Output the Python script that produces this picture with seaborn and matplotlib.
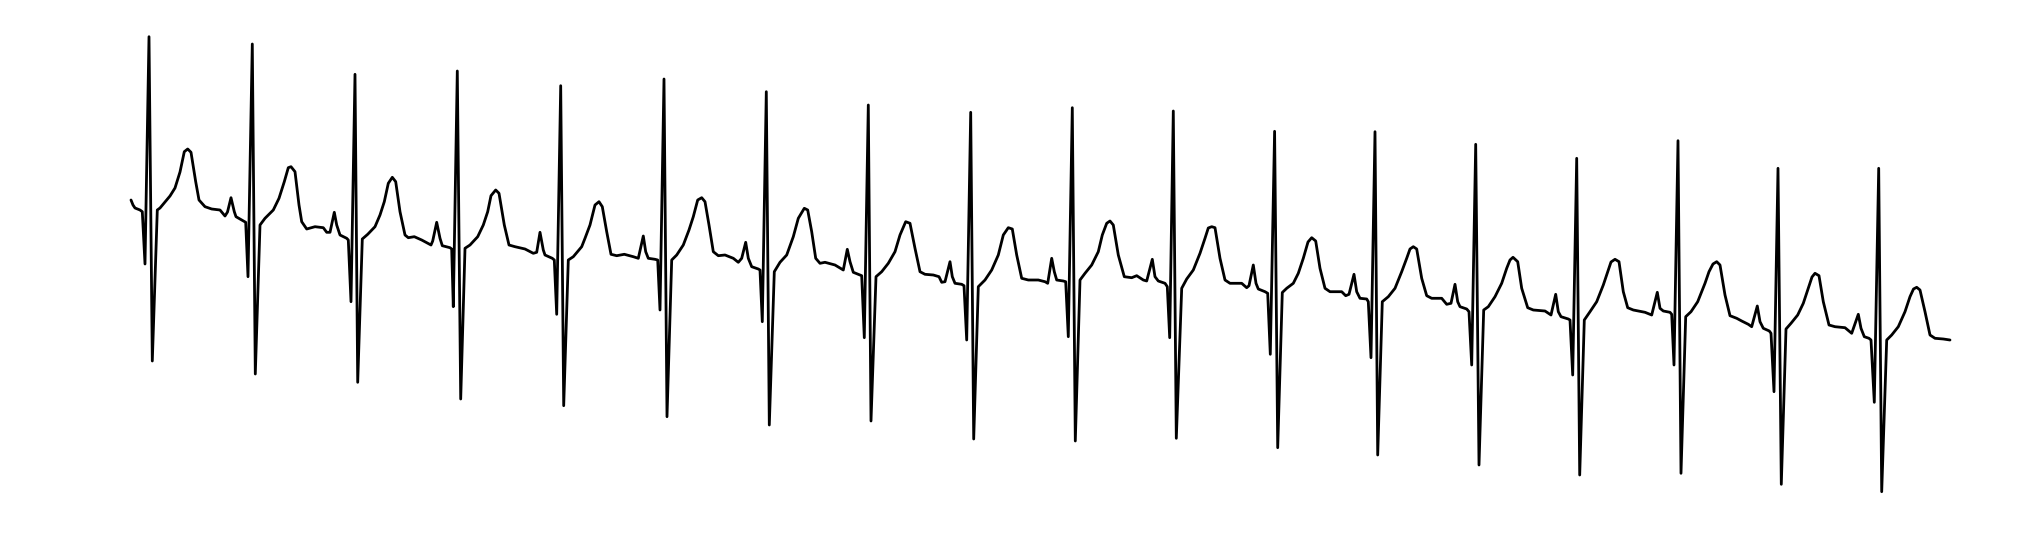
import matplotlib
matplotlib.use("Agg")
import matplotlib.pyplot as plt
import seaborn as sns

sns.set_style("white")

# ECG trace, beat by beat
# sample index and amplitude (ADC units, baseline drifting down)
sample = [
    131, 133, 135, 140, 142.3,
    145, 149, 152.3, 157.3, 160, 170, 175, 180, 184.3, 187.7, 191, 195.7, 199, 205, 211.7, 220, 225, 227.5, 231, 234.3, 236, 243.3, 245.7,
    248, 252.3, 255.3, 260, 265, 273.3, 279, 284.3, 288.3, 291, 295, 299, 301.7, 306.7, 315, 323.3, 326.7, 330, 334.3, 336.7, 340, 346.7, 348.3,
    351, 355, 357.7, 362.3, 367.7, 375, 380, 384.3, 388.3, 392.3, 395.7, 400, 405, 408.3, 414.3, 421.7, 431, 432.7, 436.7, 440, 442.3, 450, 451.7,
    453.3, 457.3, 460.7, 465, 470, 477.7, 483.3, 487.7, 491, 495.7, 499, 504.3, 509, 515, 525, 533.3, 536.7, 540, 543.3, 545, 552.3, 554.3,
    556.7, 560.7, 563.7, 568.3, 573.3, 581.7, 585, 590, 595, 599, 602.3, 606.7, 611, 616.7, 624.3, 633.3, 638.3, 643.3, 645.7, 648.3, 655, 657.7,
    660, 664, 667, 671.7, 676.7, 683.3, 689, 693.3, 697.7, 701.7, 705, 709, 713.3, 718.3, 725, 733.3, 738.3, 741.7, 745.7, 748.3, 751.7, 758.3, 760,
    762.3, 766.3, 769.3, 774.3, 780, 786.7, 793.3, 798.3, 804.3, 807.7, 811.7, 815.7, 820, 825, 835, 843.3, 847.3, 850, 853.3, 860, 861.7,
    864.3, 868.3, 871, 876, 881.7, 888.3, 895, 900, 905.7, 910, 915, 920, 925, 933.3, 939, 941.7, 945, 950, 952.3, 955, 961.7, 964,
    966.7, 970.7, 973.7, 978.3, 985, 991.7, 998.3, 1003.3, 1008.3, 1012.3, 1016.7, 1021.7, 1028.3, 1038.3, 1045, 1047.7, 1051.7, 1054.3, 1056.7, 1063.3, 1065.7,
    1068.3, 1072.3, 1075.3, 1080, 1085, 1091.7, 1098.3, 1102.3, 1106.7, 1110, 1113.3, 1118.3, 1124.3, 1131.7, 1136.7, 1143.3, 1146.7, 1152.3, 1155, 1158.3, 1165, 1167.3,
    1169.7, 1173.3, 1176.3, 1181.7, 1186.7, 1193.3, 1200, 1205, 1208.3, 1211.7, 1215, 1220, 1225, 1230, 1241.7, 1246.7, 1249, 1253.3, 1256, 1258.3, 1265, 1267.7,
    1270.3, 1274.6, 1277.7, 1282.3, 1286.7, 1293.3, 1298.3, 1303.3, 1308, 1311.7, 1315.7, 1320, 1325, 1330, 1341.7, 1345.7, 1349, 1354, 1356.7, 1360, 1366.7, 1368.3,
    1371, 1375, 1377.7, 1382.3, 1388.3, 1395, 1401.7, 1406.7, 1410, 1413.3, 1416.7, 1421.7, 1426.7, 1431.7, 1441.7, 1446.7, 1451, 1455, 1457.7, 1460, 1466.7, 1469,
    1471.7, 1475.7, 1479, 1483.7, 1488.3, 1495, 1501.7, 1506.7, 1510, 1513, 1517.7, 1521.7, 1527.7, 1533.3, 1545, 1551, 1555.7, 1558.3, 1561, 1568.3, 1570,
    1572.7, 1576.7, 1579.7, 1584.3, 1590, 1596.7, 1603.3, 1607.7, 1611, 1615, 1619, 1623.3, 1627.7, 1633.3, 1645, 1651.7, 1657.3, 1660, 1663.3, 1670, 1671.7,
    1674, 1678, 1681, 1685.7, 1691, 1697.7, 1705, 1709, 1713, 1716.7, 1720, 1725, 1730, 1736.7, 1741.7, 1748.3, 1751.7, 1757.3, 1760, 1763.3, 1769.3, 1771,
    1774, 1778, 1781.3, 1786, 1791, 1797.7, 1803.3, 1808.3, 1812, 1815, 1819, 1823.3, 1829, 1835, 1845, 1851.7, 1858.3, 1861, 1864.3, 1869, 1871,
    1874.3, 1878.7, 1881.7, 1886.7, 1891.7, 1898.3, 1905, 1910, 1913.5, 1916.7, 1920, 1925, 1930, 1935, 1943.3, 1950,
]

amplitude = [
    50, 45, 42, 40, 38.3,
    -14, 213.3, -111, 40, 42, 54, 62, 78, 98.3, 101, 97.7, 68.3, 50, 43.3, 41, 40, 34, 38, 52.3, 38.3, 33.3, 29, 27.7,
    -26.7, 206, -124, 25, 31.7, 40, 51.7, 68.3, 82.3, 83.3, 78.3, 45, 28.3, 21, 23.3, 22.3, 17.7, 17.7, 37.7, 25, 15, 11.7, 10,
    -51.7, 175.7, -132.3, 11, 15.7, 23.3, 35, 48.3, 66.7, 72.7, 68.3, 38.3, 15, 12.3, 13.3, 10, 5, 9, 27.7, 11.7, 4.3, 2.3, 1,
    -56.7, 179, -149, 1.7, 5, 13.3, 25, 38.3, 54.3, 60, 56.7, 25, 5, 3.3, 1, -3.3, -2.3, 17.7, 0, -5, -8.3, -10,
    -64.3, 164.3, -155.7, -10, -6.7, 3.3, 11.7, 25, 45, 48.3, 43.3, 18.3, -4.3, -5.7, -4.3, -6.7, -8.3, 14, -1.7, -8.3, -9.3, -10,
    -60, 171, -166.7, -10, -5, 5, 20, 33.3, 50, 52.3, 48.3, 25, -1.7, -5.7, -5, -8.3, -12.3, -8.3, 7.7, -8.3, -16.7, -19, -20,
    -71.7, 158.3, -175, -21.7, -12.3, -5, 13.3, 31.7, 41.7, 40, 18.3, -8.3, -13.3, -12.3, -15, -20, 0.7, -11.7, -22.3, -25, -25.7,
    -87.7, 145, -171, -26.7, -21.7, -13.3, -1.7, 15, 28.3, 26.7, 1.7, -21.7, -24.3, -25, -26.7, -32.3, -31.7, -11.7, -26.7, -33.3, -34.3, -35.7,
    -90, 137.7, -189, -36.7, -30, -20, -5, 15, 22.3, 21, -5, -28.3, -30, -30, -31.7, -33.3, -8.3, -21.7, -30, -31, -31.7,
    -86.7, 142.3, -191, -30, -23.3, -15, -1.7, 15, 26.7, 29, 25, -5, -26.7, -27.7, -25.7, -30, -31, -9.3, -26.7, -31, -33.3, -36.7,
    -87.7, 139, -188.3, -38.3, -29, -20, -3.3, 11.7, 22, 23.3, 22.3, -8.3, -30, -33.3, -33.3, -37.7, -35.7, -15, -33.3, -39, -41.7, -43.3,
    -104.3, 118.7, -197.7, -42.5, -38.3, -33.3, -23.3, -8.3, 8, 12.3, 9, -18.3, -38.3, -41.7, -41.7, -45.7, -44.3, -24.3, -41.7, -48.3, -49, -51.7,
    -107.7, 118.3, -205, -51.7, -46.7, -38.3, -21.7, -8.3, 1, 3.3, 1, -28.3, -45.7, -48.3, -48.3, -54.3, -53.3, -34.3, -51.7, -56.7, -59, -61.7,
    -115, 105.7, -215, -60, -56.7, -46.7, -33.3, -18.3, -10, -7.3, -11.7, -38.3, -57.7, -60, -61, -65, -44.3, -61.7, -66.7, -69, -70,
    -125, 91.7, -225, -70, -61.7, -51.7, -35, -21.7, -12, -9.3, -11.7, -41.7, -57.7, -60, -62.3, -65, -42.3, -58.3, -61, -62.3, -64.3,
    -115, 109.3, -223.3, -66.7, -61.7, -51.7, -33.3, -21.7, -14, -11.7, -15, -45, -65.7, -68.3, -71, -74.3, -76.7, -56, -71.7, -78.3, -81, -83.3,
    -141.7, 81.7, -234.3, -79, -73.3, -65, -53.3, -38.3, -27, -23.3, -25.7, -51.7, -75, -76.7, -77.7, -83.3, -64.3, -78.3, -86.7, -88.3, -90,
    -152.3, 81.7, -241.7, -90, -85, -76.7, -61.7, -46.7, -39, -37.3, -40, -61.7, -85, -88.3, -89, -90,
]

fig = plt.figure(figsize=(20.43, 5.38), dpi=100)
ax = fig.add_axes([0, 0, 1, 1])

sns.lineplot(x=sample, y=amplitude, color="black", linewidth=2.0,
             estimator=None, sort=False, ax=ax)

ax.set_xlim(0, 2043)
ax.set_ylim(-288, 250)
ax.axis("off")

plt.savefig("out.png", dpi=100)
plt.close()
